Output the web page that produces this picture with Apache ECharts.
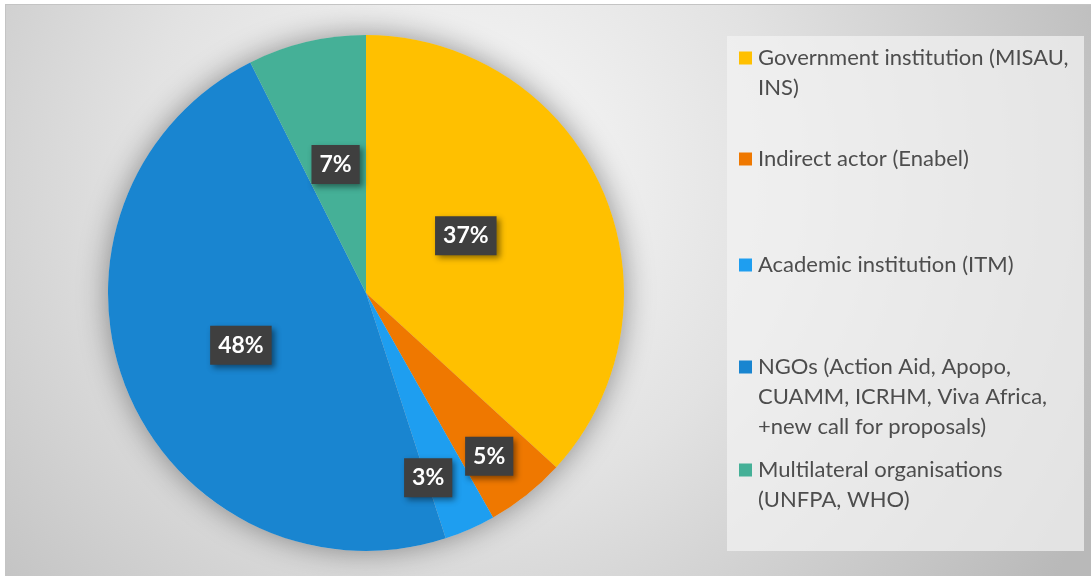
<!DOCTYPE html>
<html>
<head>
<meta charset="utf-8">
<script src="https://cdn.jsdelivr.net/npm/echarts@6/dist/echarts.min.js"></script>
<style>
  html, body { margin: 0; padding: 0; background: #ffffff; }
  #chart {
    position: absolute;
    left: 5px;
    top: 4px;
    width: 1086px;
    height: 572px;
    border-top: 1px solid #c4c4c4;
    border-left: 1px solid #c4c4c4;
  }
</style>
</head>
<body>
<div id="chart"></div>
<script>
// slice names (legend order = slice order, clockwise from 12 o'clock)
const categories = [
  "Government institution (MISAU, INS)",
  "Indirect actor (Enabel)",
  "Academic institution (ITM)",
  "NGOs (Action Aid, Apopo, CUAMM, ICRHM, Viva Africa, +new call for proposals)",
  "Multilateral organisations (UNFPA, WHO)"
];
// legend text, wrapped like the original
const legendLines = [
  ["Government institution (MISAU,", "INS)"],
  ["Indirect actor (Enabel)"],
  ["Academic institution (ITM)"],
  ["NGOs (Action Aid, Apopo,", "CUAMM, ICRHM, Viva Africa,", "+new call for proposals)"],
  ["Multilateral organisations", "(UNFPA, WHO)"]
];
// share of each slice (%)
const shares = [36.8, 5.0, 3.2, 47.6, 7.4];
const colors = ["#ffc000", "#ef7800", "#1e9ef0", "#1985d0", "#45b097"];

// layout only
const legendTops = [8, 139, 245, 287, 420];
const labelOffsets = [[-21, -4], [41, 60], [9, 64], [-3, 2], [0, 0]];
const LINE_H = 30;

const chart = echarts.init(document.getElementById("chart"));

const legends = categories.map((name, i) => {
  const lines = legendLines[i];
  // pad with blank lines above so the first line sits level with the marker
  const pad = new Array(lines.length - 1).fill("").join("\n");
  const text = (lines.length > 1 ? pad + "\n" : "") + lines.join("\n");
  return {
    data: [name],
    orient: "vertical",
    left: 733,
    top: legendTops[i],
    padding: 0,
    itemGap: 0,
    itemWidth: 13,
    itemHeight: 13,
    icon: "rect",
    selectedMode: false,
    formatter: () => text,
    textStyle: {
      fontFamily: "Lato",
      fontSize: 22,
      lineHeight: LINE_H,
      color: "#4d4d4d",
      padding: [0, 0, 0, 1]
    }
  };
});

const option = {
  animation: false,
  backgroundColor: {
    type: "radial",
    x: 0.42,
    y: 0.3,
    r: 1.25,
    colorStops: [
      { offset: 0, color: "#f9f9f9" },
      { offset: 0.45, color: "#e2e2e2" },
      { offset: 1, color: "#b9b9b9" }
    ]
  },
  graphic: [
    {
      type: "rect",
      left: 721,
      top: 31,
      z: -1,
      shape: { width: 357, height: 515 },
      style: { fill: "rgba(242,242,242,0.72)" },
      silent: true
    }
  ],
  legend: legends,
  series: [
    {
      // soft shadow behind the whole pie
      type: "pie",
      silent: true,
      legendHoverLink: false,
      center: [360, 288],
      radius: 258,
      z: 1,
      label: { show: false },
      labelLine: { show: false },
      itemStyle: {
        color: "#d0d0d0",
        shadowBlur: 30,
        shadowColor: "rgba(0,0,0,0.4)"
      },
      data: [{ value: 1, name: "" }],
      tooltip: { show: false }
    },
    {
      type: "pie",
      center: [360, 288],
      radius: 258,
      startAngle: 90,
      clockwise: true,
      z: 2,
      data: categories.map((name, i) => ({
        name: name,
        value: shares[i],
        itemStyle: { color: colors[i] },
        label: { offset: labelOffsets[i] }
      })),
      itemStyle: { borderWidth: 0 },
      label: {
        show: true,
        position: "inside",
        formatter: (p) => Math.round(p.value) + "%",
        fontFamily: "Lato",
        fontWeight: "bold",
        fontSize: 23,
        lineHeight: 24,
        color: "#ffffff",
        backgroundColor: "#3f3f3f",
        padding: [8, 8, 7, 8],
        shadowBlur: 6,
        shadowOffsetX: 3,
        shadowOffsetY: 3,
        shadowColor: "rgba(0,0,0,0.45)"
      },
      labelLine: { show: false },
      emphasis: { disabled: true }
    }
  ]
};

chart.setOption(option);
</script>
</body>
</html>
